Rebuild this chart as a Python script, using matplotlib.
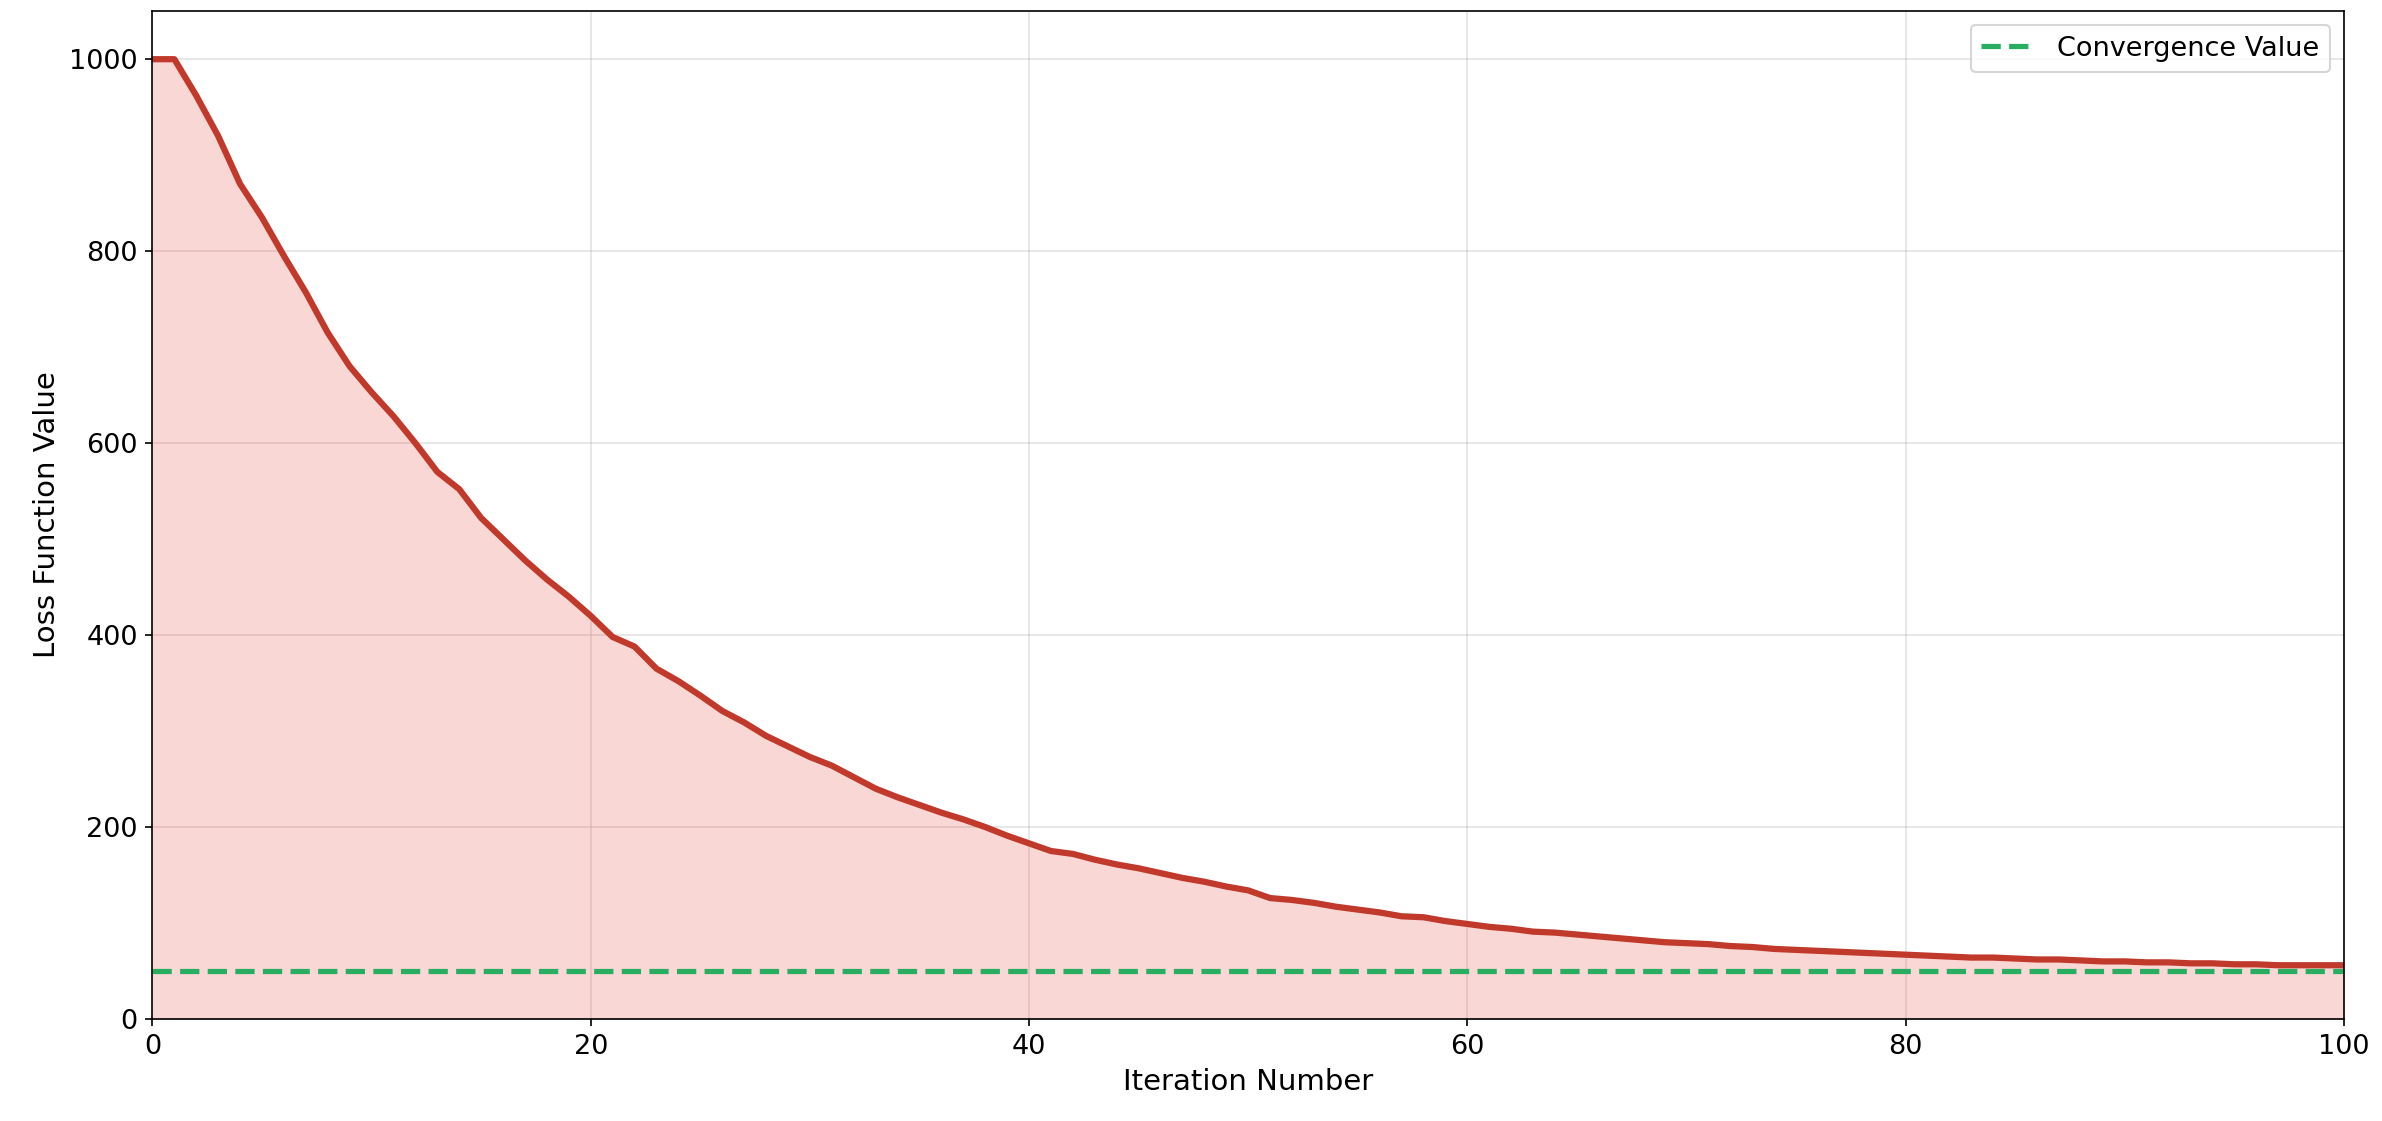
import matplotlib
matplotlib.use("Agg")
import matplotlib.pyplot as plt
import numpy as np

iterations = list(range(101))
loss = [1000, 1000, 962, 920, 870, 835, 795, 757, 715, 680,
        653, 628, 600, 570, 552, 522, 500, 478, 458, 440,
        420, 398, 388, 365, 352, 337, 321, 309, 295, 284,
        273, 264, 252, 240, 231, 223, 215, 208, 200, 191,
        183, 175, 172, 166, 161, 157, 152, 147, 143, 138,
        134, 126, 124, 121, 117, 114, 111, 107, 106, 102,
        99, 96, 94, 91, 90, 88, 86, 84, 82, 80,
        79, 78, 76, 75, 73, 72, 71, 70, 69, 68,
        67, 66, 65, 64, 64, 63, 62, 62, 61, 60,
        60, 59, 59, 58, 58, 57, 57, 56, 56, 56, 56]
convergence_value = 50

fig = plt.figure(figsize=(2382/150, 1121/150), dpi=150)
ax = fig.add_axes([0.064, 0.091, 0.920, 0.899])

ax.fill_between(iterations, loss, 0, color='#e74c3c', alpha=0.22, linewidth=0)
ax.plot(iterations, loss, color='#c0392b', linewidth=3)
ax.axhline(convergence_value, color='#27ae60', linestyle='--', linewidth=2.5,
           label='Convergence Value')

ax.set_xlim(0, 100)
ax.set_ylim(0, 1050)
ax.set_yticks([0, 200, 400, 600, 800, 1000])
ax.set_xticks([0, 20, 40, 60, 80, 100])
ax.grid(True, color='gray', alpha=0.22, linewidth=0.8)
ax.set_axisbelow(True)
ax.tick_params(labelsize=13)
ax.set_xlabel('Iteration Number', fontsize=14)
ax.set_ylabel('Loss Function Value', fontsize=14)
ax.legend(loc='upper right', fontsize=13)

fig.savefig('out.png', dpi=150)
